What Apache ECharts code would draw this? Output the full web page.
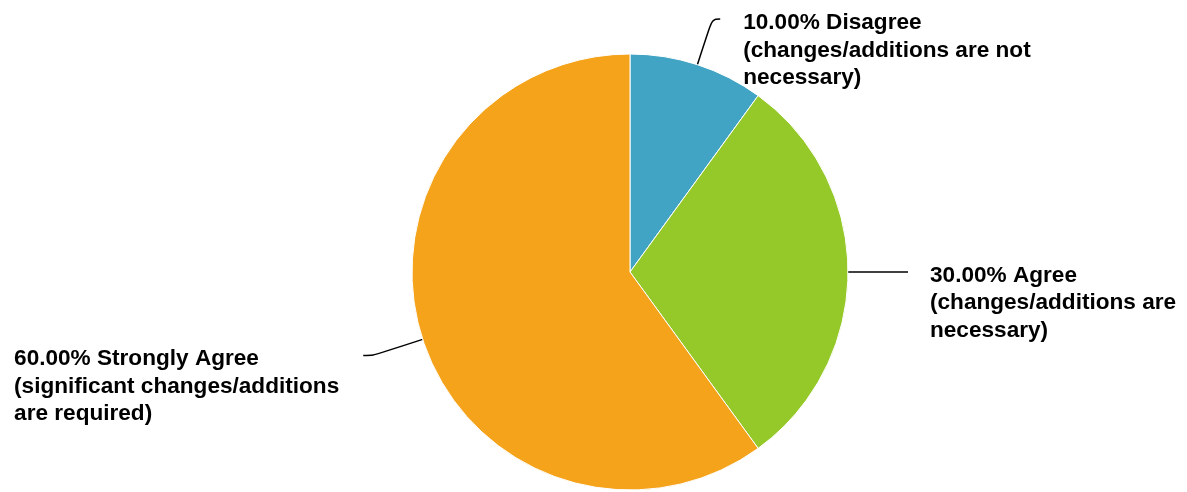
<!DOCTYPE html>
<html lang="en">
<head>
    <meta charset="UTF-8">
    <script src="https://cdn.jsdelivr.net/npm/echarts@6/dist/echarts.min.js"></script>
    <style>
        html, body {
            margin: 0;
            padding: 0;
            background: #ffffff;
        }

        #pie_chart {
            width: 1187px;
            height: 492px;
        }
    </style>
</head>
<body>
<div id="pie_chart"></div>
</body>
<script type="text/javascript">
    const categories = [
        'Disagree\n(changes/additions are not\nnecessary)',
        'Agree\n(changes/additions are\nnecessary)',
        'Strongly Agree\n(significant changes/additions\nare required)'
    ];
    const values = [10, 30, 60];
    const colors = ['#41A4C4', '#95C829', '#F4A31B'];

    // label line shape per slice: [length, length2, smooth, distance]
    const lineSetup = [
        [48, 8, 0.4, 23],
        [30, 30, false, 22],
        [52, 10, 0.3, 24]
    ];

    const pie_chart = echarts.init(document.getElementById('pie_chart'));

    const data = categories.map(function (name, i) {
        return {
            name: name,
            value: values[i],
            itemStyle: {color: colors[i]},
            label: {distanceToLabelLine: lineSetup[i][3]},
            labelLine: {
                length: lineSetup[i][0],
                length2: lineSetup[i][1],
                smooth: lineSetup[i][2]
            }
        };
    });

    pie_chart.setOption({
        animation: false,
        series: [
            {
                type: 'pie',
                center: [630, 272],
                radius: 218,
                startAngle: 90,
                clockwise: true,
                avoidLabelOverlap: false,
                itemStyle: {
                    borderColor: '#ffffff',
                    borderWidth: 1
                },
                emphasis: {disabled: true},
                label: {
                    show: true,
                    color: '#000000',
                    fontFamily: 'Liberation Sans',
                    fontWeight: 'bold',
                    fontSize: 22.6,
                    lineHeight: 27.5,
                    formatter: function (p) {
                        return p.percent.toFixed(2) + '% ' + p.name;
                    }
                },
                labelLine: {
                    show: true,
                    lineStyle: {color: '#000000', width: 1.5}
                },
                // keep the computed line, put the first text line level with its end
                labelLayout: function (params) {
                    const pts = params.labelLinePoints;
                    const end = pts[pts.length - 1];
                    return {
                        x: params.labelRect.x,
                        y: end[1] - 10,
                        align: 'left',
                        verticalAlign: 'top',
                        labelLinePoints: pts
                    };
                },
                data: data
            }
        ]
    });
</script>
</html>
